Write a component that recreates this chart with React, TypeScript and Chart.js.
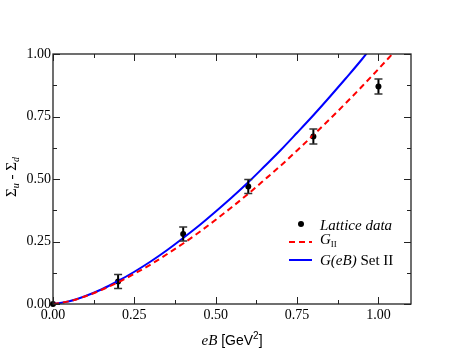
import React, { useEffect, useRef } from 'react';
import { Chart, registerables } from 'chart.js';

Chart.register(...registerables);

// eB values (GeV^2) where the model curves were read
const setIIX = [0, 0.05, 0.1, 0.15, 0.2, 0.25, 0.3, 0.35, 0.4, 0.45, 0.5, 0.55, 0.6, 0.65, 0.7, 0.75, 0.8, 0.85, 0.9, 0.95, 0.965];
const setIIValues = [0, 0.011, 0.032, 0.059, 0.092, 0.129, 0.17, 0.215, 0.264, 0.315, 0.37, 0.427, 0.487, 0.551, 0.616, 0.685, 0.755, 0.828, 0.903, 0.98, 1.005];

const gIIX = [0, 0.05, 0.1, 0.15, 0.2, 0.25, 0.3, 0.35, 0.4, 0.45, 0.5, 0.55, 0.6, 0.65, 0.7, 0.75, 0.8, 0.85, 0.9, 0.95, 1.0, 1.045];
const gIIValues = [0, 0.011, 0.031, 0.057, 0.087, 0.121, 0.158, 0.199, 0.242, 0.288, 0.337, 0.388, 0.441, 0.497, 0.554, 0.614, 0.676, 0.739, 0.804, 0.871, 0.94, 1.003];

// Lattice data
const latticeX = [0, 0.2, 0.4, 0.6, 0.8, 1.0];
const latticeY = [0, 0.09, 0.28, 0.47, 0.67, 0.87];
const latticeErr = [0, 0.028, 0.028, 0.028, 0.03, 0.03];

// Axis ticks
const xMajorTicks = [0, 0.25, 0.5, 0.75, 1.0];
const xMinorTicks = [0.125, 0.375, 0.625, 0.875];
const yMajorTicks = [0, 0.25, 0.5, 0.75, 1.0];
const yMinorTicks = [0.125, 0.375, 0.625, 0.875];

const SERIF = '"Liberation Serif", "DejaVu Serif", serif';
const SANS = '"Liberation Sans", "DejaVu Sans", sans-serif';

type Piece = { t: string; font: string; dy?: number };

function drawPieces(ctx: CanvasRenderingContext2D, pieces: Piece[], x: number, y: number, align: 'left' | 'center') {
  let w = 0;
  for (const p of pieces) {
    ctx.font = p.font;
    w += ctx.measureText(p.t).width;
  }
  let cx = align === 'center' ? x - w / 2 : x;
  ctx.textAlign = 'left';
  ctx.textBaseline = 'alphabetic';
  for (const p of pieces) {
    ctx.font = p.font;
    ctx.fillText(p.t, cx, y + (p.dy || 0));
    cx += ctx.measureText(p.t).width;
  }
}

const decorPlugin = {
  id: 'decor',
  afterDatasetsDraw(chart: any) {
    const ctx: CanvasRenderingContext2D = chart.ctx;
    const xs = chart.scales.x;
    const ys = chart.scales.y;
    const area = chart.chartArea;
    ctx.save();
    // error bars
    ctx.strokeStyle = '#000';
    for (let i = 0; i < latticeX.length; i++) {
      if (!latticeErr[i]) continue;
      const px = xs.getPixelForValue(latticeX[i]);
      const top = ys.getPixelForValue(latticeY[i] + latticeErr[i]);
      const bot = ys.getPixelForValue(latticeY[i] - latticeErr[i]);
      ctx.lineWidth = 2;
      ctx.beginPath();
      ctx.moveTo(px, top);
      ctx.lineTo(px, bot);
      ctx.stroke();
      ctx.lineWidth = 1.5;
      ctx.strokeStyle = '#333';
      ctx.beginPath();
      ctx.moveTo(px - 4, top);
      ctx.lineTo(px + 4, top);
      ctx.moveTo(px - 4, bot);
      ctx.lineTo(px + 4, bot);
      ctx.stroke();
      ctx.strokeStyle = '#000';
    }
    // frame
    ctx.lineWidth = 1.3;
    ctx.strokeStyle = '#222';
    ctx.strokeRect(area.left, area.top, area.right - area.left, area.bottom - area.top);
    // ticks inside
    ctx.lineWidth = 1;
    ctx.beginPath();
    const xt = (vals: number[], len: number) => {
      for (const v of vals) {
        const px = Math.round(xs.getPixelForValue(v)) + 0.5;
        ctx.moveTo(px, area.bottom);
        ctx.lineTo(px, area.bottom - len);
        ctx.moveTo(px, area.top);
        ctx.lineTo(px, area.top + len);
      }
    };
    const yt = (vals: number[], len: number) => {
      for (const v of vals) {
        const py = Math.round(ys.getPixelForValue(v)) + 0.5;
        ctx.moveTo(area.left, py);
        ctx.lineTo(area.left + len, py);
        ctx.moveTo(area.right, py);
        ctx.lineTo(area.right - len, py);
      }
    };
    xt(xMajorTicks, 7);
    xt(xMinorTicks, 4);
    yt(yMajorTicks, 7);
    yt(yMinorTicks, 4);
    ctx.stroke();
    ctx.restore();
  },
  afterDraw(chart: any) {
    const ctx: CanvasRenderingContext2D = chart.ctx;
    const area = chart.chartArea;
    ctx.save();
    ctx.fillStyle = '#000';
    // x axis title
    drawPieces(
      ctx,
      [
        { t: 'eB', font: `italic 15px ${SERIF}` },
        { t: ' [GeV', font: `14px ${SANS}` },
        { t: '2', font: `10px ${SANS}`, dy: -6 },
        { t: ']', font: `14px ${SANS}` },
      ],
      (area.left + area.right) / 2,
      345,
      'center'
    );
    // y axis title (rotated)
    ctx.save();
    ctx.translate(16, (area.top + area.bottom) / 2 - 2);
    ctx.rotate(-Math.PI / 2);
    drawPieces(
      ctx,
      [
        { t: 'Σ', font: `15px ${SERIF}` },
        { t: 'u', font: `italic 10px ${SERIF}`, dy: 3 },
        { t: ' - ', font: `15px ${SERIF}` },
        { t: 'Σ', font: `15px ${SERIF}` },
        { t: 'd', font: `italic 10px ${SERIF}`, dy: 3 },
      ],
      0,
      0,
      'center'
    );
    ctx.restore();

    // legend
    const lx0 = 289;
    const lx1 = 312;
    const tx = 320;
    // lattice
    ctx.beginPath();
    ctx.arc(301, 224, 3, 0, Math.PI * 2);
    ctx.fill();
    drawPieces(ctx, [{ t: 'Lattice data', font: `italic 15px ${SERIF}` }], tx, 230, 'left');
    // G_II
    ctx.strokeStyle = '#ff0000';
    ctx.lineWidth = 2;
    ctx.setLineDash([6, 4]);
    ctx.beginPath();
    ctx.moveTo(lx0, 242);
    ctx.lineTo(lx1, 242);
    ctx.stroke();
    ctx.setLineDash([]);
    drawPieces(
      ctx,
      [
        { t: 'G', font: `italic 15px ${SERIF}` },
        { t: 'II', font: `9px ${SERIF}`, dy: 3 },
      ],
      tx,
      244,
      'left'
    );
    // G(eB) Set II
    ctx.strokeStyle = '#0000ff';
    ctx.beginPath();
    ctx.moveTo(lx0, 260);
    ctx.lineTo(lx1, 260);
    ctx.stroke();
    drawPieces(
      ctx,
      [
        { t: 'G(eB)', font: `italic 15px ${SERIF}` },
        { t: ' Set II', font: `15px ${SERIF}` },
      ],
      tx,
      265,
      'left'
    );
    ctx.restore();
  },
};

export default function App() {
  const ref = useRef<HTMLCanvasElement | null>(null);
  useEffect(() => {
    document.body.style.margin = '0';
    const canvas = ref.current!;
    const chart = new Chart(canvas, {
      type: 'line',
      data: {
        datasets: [
          {
            label: 'G_II',
            data: gIIX.map((x, i) => ({ x, y: gIIValues[i] })),
            borderColor: '#ff0000',
            borderWidth: 2,
            borderDash: [6, 4],
            pointRadius: 0,
            cubicInterpolationMode: 'monotone',
            clip: 0,
          } as any,
          {
            label: 'G(eB) Set II',
            data: setIIX.map((x, i) => ({ x, y: setIIValues[i] })),
            borderColor: '#0000ff',
            borderWidth: 2,
            pointRadius: 0,
            cubicInterpolationMode: 'monotone',
            clip: 0,
          } as any,
          {
            label: 'Lattice data',
            data: latticeX.map((x, i) => ({ x, y: latticeY[i] })),
            showLine: false,
            pointRadius: 3,
            pointBackgroundColor: '#000',
            pointBorderColor: '#000',
            pointBorderWidth: 0,
            clip: false,
          } as any,
        ],
      },
      options: {
        animation: false,
        responsive: false,
        maintainAspectRatio: false,
        layout: { padding: { top: 54, right: 52, left: 0, bottom: 0 } },
        plugins: { legend: { display: false }, tooltip: { enabled: false } },
        scales: {
          x: {
            type: 'linear',
            min: 0,
            max: 1.1,
            afterBuildTicks: (s: any) => {
              s.ticks = xMajorTicks.map((v) => ({ value: v }));
            },
            afterFit: (s: any) => {
              s.height = 54;
            },
            grid: { display: false, drawTicks: false },
            border: { display: false },
            ticks: {
              padding: 3,
              color: '#000',
              font: { family: SERIF, size: 14 },
              callback: (v: any) => Number(v).toFixed(2),
              maxRotation: 0,
            },
          },
          y: {
            type: 'linear',
            min: 0,
            max: 1.0,
            afterBuildTicks: (s: any) => {
              s.ticks = yMajorTicks.map((v) => ({ value: v }));
            },
            afterFit: (s: any) => {
              s.width = 53;
            },
            grid: { display: false, drawTicks: false },
            border: { display: false },
            ticks: {
              padding: 2,
              color: '#000',
              font: { family: SERIF, size: 14 },
              callback: (v: any) => Number(v).toFixed(2),
            },
          },
        },
      },
      plugins: [decorPlugin],
    } as any);
    return () => chart.destroy();
  }, []);
  return <canvas ref={ref} width={463} height={358} style={{ display: 'block', width: 463, height: 358 }} />;
}
